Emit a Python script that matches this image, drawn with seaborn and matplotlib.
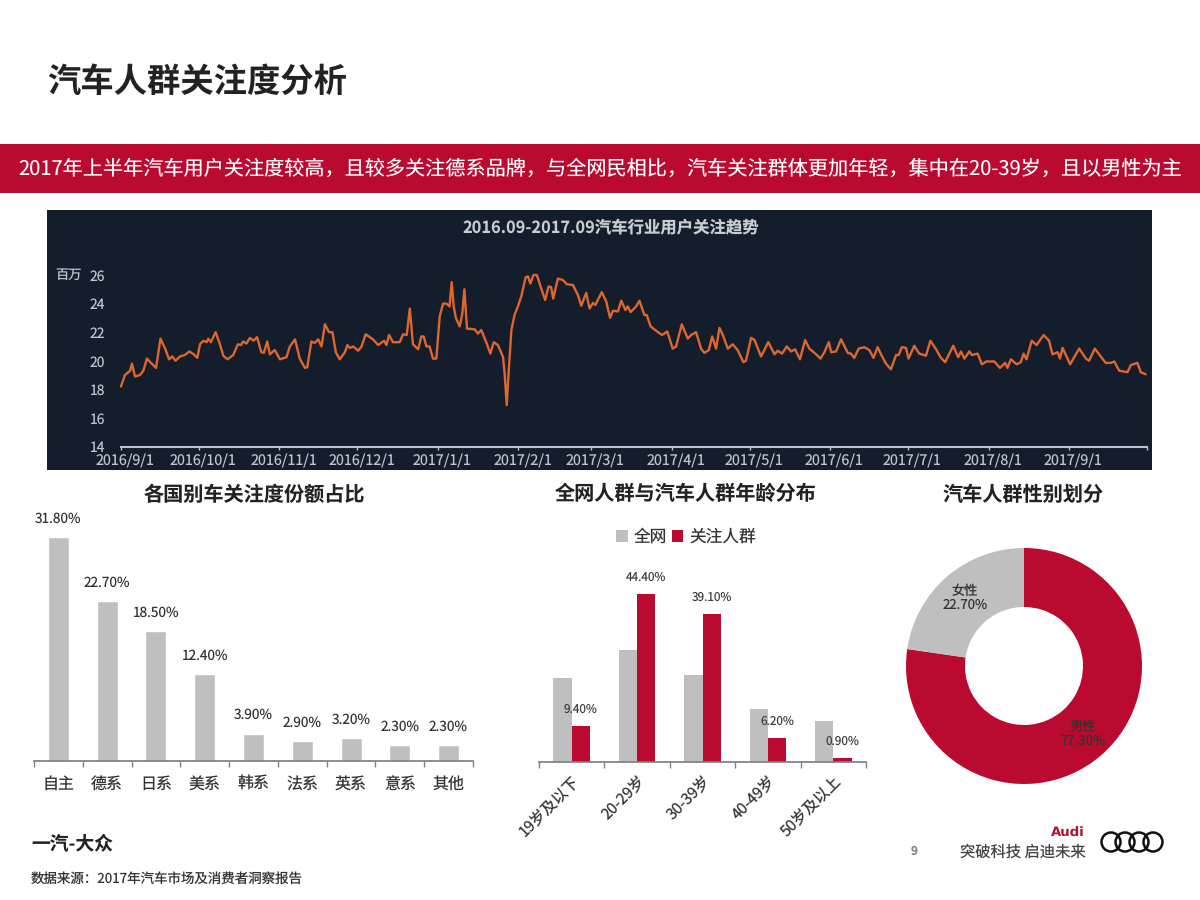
import numpy as np
import pandas as pd
import seaborn as sns
import matplotlib.pyplot as plt
from matplotlib.patches import Rectangle, Circle
from matplotlib.transforms import ScaledTranslation

# trend data, days since 2016/9/1 and millions of users
trend_days = [0, 1.5, 3.5, 4.2, 5.4, 7.3, 8.6, 10, 11.8, 13.5, 15.2, 17, 18.5, 19.7, 21, 22.7, 24.6, 26.3, 28, 29.4,
              30.4, 31.7, 33, 33.6, 34.6, 36.4, 38, 39.4, 41, 43.2, 45, 46.2, 47, 48.3, 49.6, 51, 52.4, 54, 55, 56.3,
              57.3, 59.2, 61.2, 63.7, 65, 67, 68.8, 70.8, 71.7, 73.3, 74.6, 75.9, 77.2, 78.5, 80.1, 81.4, 82.7, 84.2, 86.2, 87.2,
              88.1, 89.4, 91.3, 92.6, 94.2, 97, 99, 101.3, 102.2, 103.2, 104.7, 107.3, 108.6, 110, 111.2, 112.4, 114.4, 115.6, 116.5, 117.6,
              118.8, 120.1, 121.4, 122.7, 124, 125.3, 126.5, 127.3, 128.1, 128.9, 130.4, 131.4, 132.2, 133.2, 136.2, 137.4, 138.7, 140.6, 142.2, 143.5,
              145.1, 147.1, 147.7, 148.5, 149.2, 150.3, 151.5, 152.8, 154.1, 155.8, 156.7, 157.6, 158.8, 160.1, 161.8, 163.3, 164.6, 165.6, 166.4, 168.2,
              170.1, 171.7, 174, 175.9, 177.2, 179.1, 180.4, 181.7, 182.6, 185.1, 186.8, 188.3, 189.4, 191.3, 192.6, 194.2, 195.1, 196.2, 198.3, 199.6,
              201.5, 202.4, 203.9, 206, 208.3, 210.3, 212.4, 213.7, 215.9, 218.2, 219.5, 221.4, 223.3, 224.6, 226.3, 227.6, 229.1, 230.4, 231.7, 233.6,
              235.5, 237.4, 239.6, 240.6, 242.6, 243.9, 246.4, 249.2, 251.6, 252.8, 254.5, 256.3, 258, 259.5, 261.4, 263.4, 265, 267, 269.3, 270.8,
              272.5, 273.4, 275.3, 277.2, 279.8, 281, 282.3, 284, 286.2, 288.1, 289.7, 291.3, 292.6, 294.5, 296.4, 298.4, 299.4, 300.6, 302.2, 303.2,
              305.4, 307.3, 309.9, 311.6, 313.8, 315.7, 317.3, 320.4, 322.3, 323.4, 324.7, 326.6, 327.6, 329.8, 331.4, 333.2, 336.2, 338.4, 340.4, 341.3,
              342.6, 344.8, 346.4, 347.5, 348.6, 350.6, 352.5, 355.2, 357.3, 358.6, 360.6, 361.5, 362.5, 365.4, 368.9, 371.5, 372.7, 374.9, 379.1, 381.1,
              382.4, 384.3, 387.5, 388.8, 391.3, 392.6, 394.5]
trend_vals = [18.2, 19.0, 19.3, 19.8, 18.9, 19.0, 19.3, 20.15, 19.8, 19.5, 21.55, 20.85, 20.1, 20.3, 20.0, 20.3, 20.4, 20.65, 20.45, 20.2,
              21.15, 21.4, 21.3, 21.55, 21.3, 22.0, 21.2, 20.35, 20.1, 20.4, 21.15, 21.1, 21.35, 21.2, 21.6, 21.4, 21.65, 20.6, 20.55, 21.35,
              20.45, 20.75, 20.1, 20.25, 21.0, 21.5, 20.15, 19.5, 19.55, 21.35, 21.25, 21.5, 21.0, 22.55, 22.0, 22.0, 20.6, 20.1, 20.6, 21.1,
              20.9, 21.0, 20.7, 21.0, 21.85, 21.5, 21.1, 21.4, 21.1, 21.8, 21.3, 21.3, 21.85, 21.8, 23.65, 21.15, 20.8, 21.7, 21.7, 21.0,
              21.0, 20.15, 20.15, 23.1, 24.0, 24.0, 23.8, 25.5, 23.8, 23.0, 22.4, 23.3, 25.0, 22.25, 22.2, 21.9, 22.15, 21.3, 20.5, 21.3,
              21.1, 20.25, 19.1, 16.9, 19.1, 22.15, 23.2, 23.8, 24.5, 25.85, 25.9, 25.4, 26.0, 26.0, 25.05, 24.25, 25.2, 25.15, 24.35, 25.75,
              25.65, 25.35, 25.3, 24.6, 23.85, 24.75, 23.65, 24.05, 23.9, 24.8, 24.15, 23.0, 23.5, 23.45, 24.2, 23.55, 23.8, 23.4, 23.8, 24.2,
              23.2, 23.2, 22.4, 22.1, 21.8, 22.05, 20.85, 21.0, 22.55, 21.55, 21.8, 22.0, 20.85, 20.55, 20.75, 21.7, 20.85, 22.3, 21.8, 20.85,
              21.15, 20.75, 19.9, 20.0, 21.6, 21.45, 20.3, 21.3, 20.45, 20.7, 20.5, 21.0, 20.65, 20.8, 20.1, 21.45, 20.85, 20.55, 20.15, 20.6,
              21.3, 20.6, 20.65, 21.5, 20.55, 20.5, 20.2, 20.85, 20.95, 20.75, 20.2, 20.95, 20.45, 19.8, 19.4, 20.4, 20.4, 20.95, 20.9, 20.15,
              21.05, 20.5, 20.35, 21.4, 20.8, 20.2, 19.9, 21.05, 20.25, 20.65, 20.15, 20.65, 20.4, 20.5, 19.75, 19.95, 19.95, 19.5, 19.85, 19.5,
              20.1, 19.75, 19.9, 20.5, 20.1, 21.4, 21.1, 21.8, 21.4, 20.45, 20.6, 20.15, 20.9, 19.75, 20.85, 20.15, 20.0, 20.85, 19.85, 19.85,
              19.95, 19.3, 19.2, 19.7, 19.85, 19.2, 19.05]
trend_yticks = [14, 16, 18, 20, 22, 24, 26]

brand_names = ['自主', '德系', '日系', '美系', '韩系', '法系', '英系', '意系', '其他']
brand_vals = [31.8, 22.7, 18.5, 12.4, 3.9, 2.9, 3.2, 2.3, 2.3]

age_groups = ['19岁及以下', '20-29岁', '30-39岁', '40-49岁', '50岁及以上']
age_all = [22.2, 29.5, 22.9, 14.0, 10.8]
age_car = [9.4, 44.4, 39.1, 6.2, 0.9]

gender_names = ['男性', '女性']
gender_vals = [77.3, 22.7]

RED = '#BB0A30'
GRAY = '#BFBFBF'
PANEL = '#141D2B'
ORANGE = '#DE672D'
LIGHT = '#BEC4CB'
DARK = '#222222'

sns.set_theme(style='white')
plt.rcParams['font.family'] = ['Noto Sans CJK SC', 'DejaVu Sans']
plt.rcParams['text.hinting'] = 'no_hinting'

fig = plt.figure(figsize=(12, 9), dpi=100)


def px_axes(left, top, right, bottom):
    ax = fig.add_axes([left / 1200, 1 - bottom / 900, (right - left) / 1200, (bottom - top) / 900])
    ax.patch.set_alpha(0)
    return ax


# page background, in pixel coordinates
bg = px_axes(0, 0, 1200, 900)
bg.set_xlim(0, 1200)
bg.set_ylim(900, 0)
bg.axis('off')
bg.add_patch(Rectangle((0, 144), 1200, 49, color=RED, lw=0))
bg.add_patch(Rectangle((47, 210), 1105, 260, color=PANEL, lw=0))
bg.text(47, 82, '汽车人群关注度分析', fontsize=24, fontweight='bold', color=DARK, va='center')
bg.text(600.5, 169, '2017年上半年汽车用户关注度较高，且较多关注德系品牌，与全网民相比，汽车关注群体更加年轻，集中在20-39岁，且以男性为主',
        fontsize=14.5, color='white', ha='center', va='center')
bg.text(611, 228, '2016.09-2017.09汽车行业用户关注趋势', fontsize=11.8, fontweight='bold', color='#C8CDD3', ha='center', va='center')
bg.text(69, 275, '百万', fontsize=9.5, color=LIGHT, ha='center', va='center')
bg.text(254, 495, '各国别车关注度份额占比', fontsize=14.5, fontweight='bold', color=DARK, ha='center', va='center')
bg.text(686, 494, '全网人群与汽车人群年龄分布', fontsize=14.5, fontweight='bold', color=DARK, ha='center', va='center')
bg.text(1023, 495, '汽车人群性别划分', fontsize=14.5, fontweight='bold', color=DARK, ha='center', va='center')
bg.text(31, 844, '一汽-大众', fontsize=13.5, fontweight='bold', color=DARK, va='center')
bg.text(31, 879, '数据来源：2017年汽车市场及消费者洞察报告', fontsize=9.7, color='#333333', va='center')
bg.text(914, 851, '9', fontsize=8.5, fontweight='bold', color='#7F8C8C', ha='center', va='center')
bg.text(1086, 852, '突破科技 启迪未来', fontsize=11, color='#444444', ha='right', va='center')
bg.text(1085, 833, 'Audi', fontsize=9.5, fontweight='bold', family='DejaVu Sans', color=RED, ha='right', va='center')
for k in range(4):
    bg.add_patch(Circle((1111 + 14 * k, 842), 9.5, fill=False, ec='#111111', lw=1.8))

# trend line
ax1 = px_axes(121, 275, 1147, 446.5)
start = pd.Timestamp('2016-09-01')
end = start + pd.Timedelta(days=395)
trend_dates = start + pd.to_timedelta(trend_days, unit='D')
sns.lineplot(x=trend_dates, y=trend_vals, color=ORANGE, lw=1.7, ax=ax1, clip_on=False)
month_starts = pd.date_range('2016-09-01', '2017-09-01', freq='MS')
ax1.set_xticks(list(month_starts) + [end])
ax1.set_xticklabels([f'{d.year}/{d.month}/{d.day}' for d in month_starts] + [''], fontsize=10.3, color=LIGHT)
ax1.set_xlim(start, end)
ax1.set_ylim(14, 26)
ax1.set_yticks(trend_yticks)
ax1.set_yticklabels(trend_yticks, fontsize=10, color=LIGHT)
ax1.tick_params(axis='x', bottom=True, length=2, width=1, color=LIGHT, pad=3)
ax1.tick_params(axis='y', left=False, pad=5.5)
for lab in ax1.get_xticklabels():
    lab.set_transform(lab.get_transform() + ScaledTranslation(3 / 72, 0, fig.dpi_scale_trans))
ax1.set(xlabel=None, ylabel=None)
sns.despine(ax=ax1, left=True)
ax1.spines['bottom'].set_color(LIGHT)
ax1.spines['bottom'].set_linewidth(1.5)

# share by brand origin
ax2 = px_axes(34, 500, 473, 761)
sns.barplot(x=brand_names, y=brand_vals, color=GRAY, saturation=1, width=0.43, ax=ax2)
ax2.set_ylim(0, 261 / 7.04)
ax2.set_xlim(-0.5, len(brand_names) - 0.5)
ax2.bar_label(ax2.containers[0], fmt='%.2f%%', fontsize=9.8, color='#333333', padding=8)
ax2.set_xticks(np.arange(-0.5, len(brand_names)), minor=True)
ax2.tick_params(axis='x', which='minor', bottom=True, length=4.5, width=1, color='#808080')
ax2.tick_params(axis='x', which='major', bottom=False, labelsize=11.5, labelcolor='#333333', pad=4.5)
ax2.set_yticks([])
sns.despine(ax=ax2, left=True)
ax2.spines['bottom'].set_color('#808080')

# age distribution
ax3 = px_axes(539, 550, 866, 761.5)
age_df = pd.DataFrame({'age': age_groups * 2,
                       'share': age_all + age_car,
                       'group': ['全网'] * len(age_groups) + ['关注人群'] * len(age_groups)})
sns.barplot(data=age_df, x='age', y='share', hue='group', palette=[GRAY, RED], saturation=1, width=0.56, gap=0,
            linewidth=0, ax=ax3)
ax3.set_ylim(0, 211.5 / 3.78)
ax3.set_xlim(-0.5, len(age_groups) - 0.5)
ax3.bar_label(ax3.containers[1], fmt='%.2f%%', fontsize=8.5, color='#404040', padding=7.5)
ax3.set_xticks(np.arange(-0.5, len(age_groups)), minor=True)
ax3.tick_params(axis='x', which='minor', bottom=True, length=4.5, width=1, color='#808080')
ax3.tick_params(axis='x', which='major', bottom=False, labelsize=11, labelcolor='#333333', pad=2)
for lab in ax3.get_xticklabels():
    lab.set(rotation=45, ha='right', rotation_mode='anchor')
ax3.set_yticks([])
ax3.set(xlabel=None, ylabel=None)
sns.despine(ax=ax3, left=True)
ax3.spines['bottom'].set_color('#808080')
sns.move_legend(ax3, 'center', bbox_to_anchor=(686 / 1200, 1 - 537 / 900), bbox_transform=fig.transFigure,
                ncol=2, frameon=False, title=None, fontsize=12, handlelength=0.7, handleheight=0.7,
                columnspacing=0.3, handletextpad=0.35, labelcolor='#333333')

# gender donut
ax4 = px_axes(876.5, 518.5, 1171.5, 813.5)
ax4.pie(gender_vals, colors=[RED, GRAY], startangle=90, counterclock=False,
        labels=[f'{n}\n{v:.2f}%' for n, v in zip(gender_names, gender_vals)], labeldistance=0.76,
        wedgeprops={'width': 0.5, 'linewidth': 0},
        textprops={'fontsize': 9.5, 'color': '#333333', 'ha': 'center', 'va': 'center', 'linespacing': 1.05})

fig.savefig('out.png', dpi=100)
